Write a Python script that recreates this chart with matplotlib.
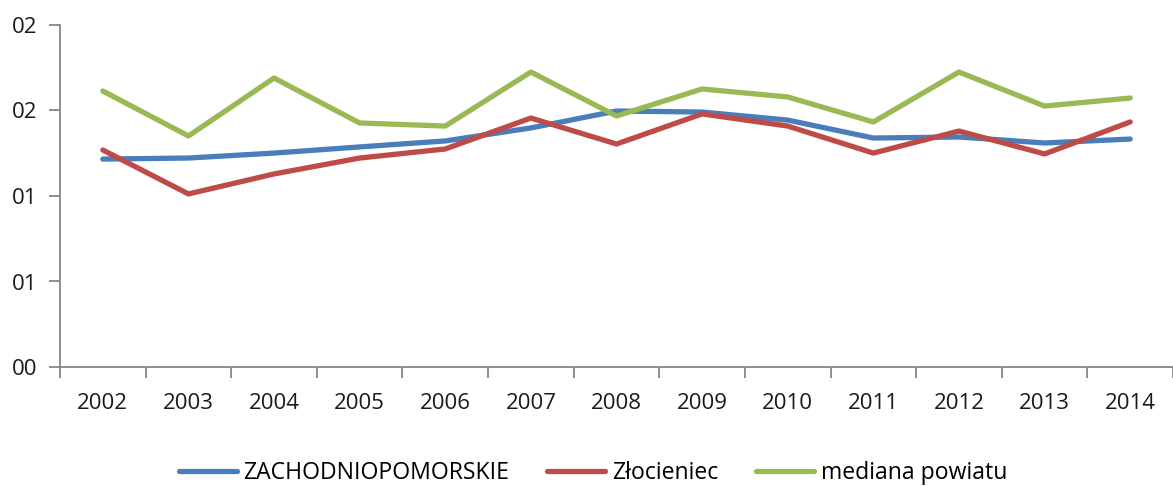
import matplotlib
matplotlib.use("Agg")
import matplotlib.pyplot as plt
from matplotlib.ticker import FixedLocator, FixedFormatter, NullFormatter

# dane
lata = [2002, 2003, 2004, 2005, 2006, 2007, 2008, 2009, 2010, 2011, 2012, 2013, 2014]
zachodniopomorskie = [0.1216, 0.1222, 0.1251, 0.1287, 0.1322, 0.1398, 0.1497, 0.1491,
                      0.1444, 0.1339, 0.1345, 0.1310, 0.1333]
zlocieniec = [0.1269, 0.1012, 0.1129, 0.1222, 0.1275, 0.1456, 0.1304, 0.1480,
              0.1409, 0.1251, 0.1380, 0.1246, 0.1433]
mediana_powiatu = [0.1614, 0.1351, 0.1690, 0.1427, 0.1409, 0.1725, 0.1468, 0.1626,
                   0.1579, 0.1433, 0.1725, 0.1526, 0.1573]
y_ticks = [0.0, 0.05, 0.10, 0.15, 0.20]
y_labels = ["00", "01", "01", "02", "02"]

plt.rcParams['font.family'] = ['Open Sans', 'DejaVu Sans']

fig = plt.figure(figsize=(11.73, 4.86), dpi=100)
ax = fig.add_axes([60 / 1173, 1 - 367 / 486, 1 - 60 / 1173, (367 - 25) / 486])

x = list(range(len(lata)))
ax.plot(x, zachodniopomorskie, color='#4A7EBB', lw=3.8, label='ZACHODNIOPOMORSKIE',
        solid_capstyle='round')
ax.plot(x, zlocieniec, color='#BE4B48', lw=3.8, label='Złocieniec', solid_capstyle='round')
ax.plot(x, mediana_powiatu, color='#98B954', lw=3.8, label='mediana powiatu',
        solid_capstyle='round')

ax.set_xlim(-0.5, len(lata) - 0.5)
ax.set_ylim(0, 0.2)

ax.xaxis.set_major_locator(FixedLocator(x))
ax.xaxis.set_major_formatter(FixedFormatter([str(r) for r in lata]))
ax.xaxis.set_minor_locator(FixedLocator([i - 0.5 for i in range(len(lata) + 1)]))
ax.xaxis.set_minor_formatter(NullFormatter())
ax.tick_params(axis='x', which='major', length=0, pad=19, labelsize=16, colors='#1a1a1a')
ax.tick_params(axis='x', which='minor', length=8, width=1.3, color='#868686', direction='out')

ax.yaxis.set_major_locator(FixedLocator(y_ticks))
ax.yaxis.set_major_formatter(FixedFormatter(y_labels))
ax.tick_params(axis='y', length=8, width=1.3, color='#868686', pad=8, labelsize=16,
               labelcolor='#1a1a1a')

for s in ['top', 'right']:
    ax.spines[s].set_visible(False)
for s in ['left', 'bottom']:
    ax.spines[s].set_color('#868686')
    ax.spines[s].set_linewidth(1.3)

leg = fig.legend(loc='center', bbox_to_anchor=(593 / 1173, 1 - 473 / 486), ncol=3,
                 frameon=False, fontsize=16.6, handlelength=2.5, handletextpad=0.3,
                 columnspacing=1.65)
for line in leg.get_lines():
    line.set_linewidth(3.8)

fig.savefig('out.png', dpi=100)
